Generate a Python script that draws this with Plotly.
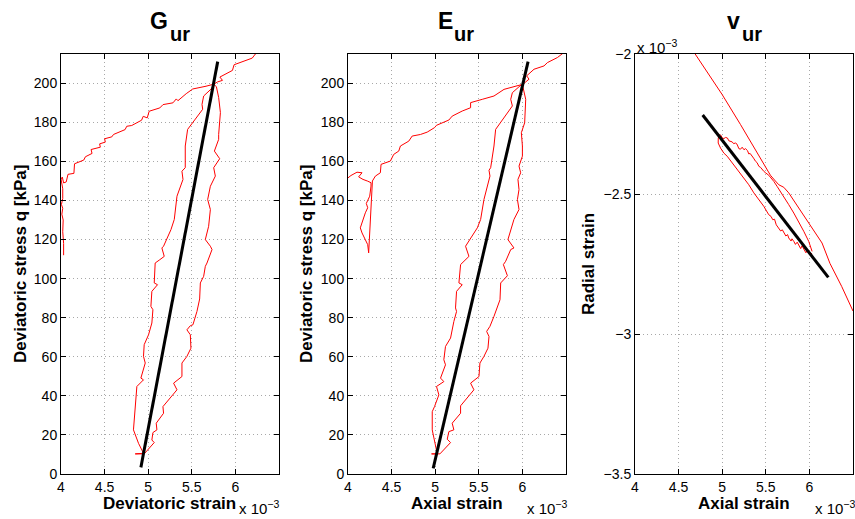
import plotly.graph_objects as go

W, H = 855, 519

# ---------------- Panel 1: G_ur (deviatoric strain [x1e-3], q [kPa]) ----------------
g_strain = [4.03, 4.03, 4.02, 4.025, 4.01, 4.02, 4.005, 4.02, 4.02, 4.0, 4.015, 4.03, 4.06,
            4.080, 4.148, 4.155, 4.261, 4.280, 4.356, 4.345, 4.451, 4.443, 4.508, 4.5, 4.583, 4.602,
            4.735, 4.754, 4.811, 4.924, 4.943, 4.989, 5.011, 5.133, 5.170, 5.284, 5.322, 5.341,
            5.436, 5.511, 5.663, 5.731, 5.751,
            5.720, 5.636, 5.617, 5.625, 5.502, 5.452, 5.425, 5.425, 5.387, 5.399, 5.330, 5.299,
            5.261, 5.176, 5.157, 5.184, 5.133, 5.080, 5.069, 5.107, 5.042, 5.031, 5.054, 5.042,
            5.004, 4.954, 4.946, 4.966, 4.916, 4.946, 4.870, 4.851, 4.831, 4.889, 4.946, 4.851,
            4.954, 5.069, 5.042, 5.054, 5.100, 5.092, 5.176, 5.169, 5.330, 5.291, 5.387, 5.387,
            5.444, 5.490, 5.483, 5.444, 5.483, 5.513, 5.559, 5.590, 5.598, 5.636, 5.655, 5.674,
            5.732, 5.713, 5.655, 5.693, 5.713, 5.682, 5.713, 5.770, 5.751, 5.820, 5.759, 5.808,
            5.808, 5.828, 5.808, 5.782, 5.751,
            5.795, 5.852, 5.822, 5.966, 5.985, 6.080, 6.193, 6.231, 6.30]
g_q = [112, 118, 124, 130, 133, 136, 138, 141, 146, 151, 152, 149, 149.5,
       153.4, 153.9, 158.8, 160.7, 162.4, 164.1, 166.1, 167.3, 169.0, 169.9, 171.6, 172.6, 173.8,
       176.3, 178.0, 178.4, 181.1, 183.1, 182.3, 185.7, 187.4, 189.1, 190.0, 192.0, 191.1,
       194.7, 197.1, 198.5, 199.3, 199.0,
       197.0, 193.5, 189.2, 186.7, 179.8, 176.4, 167.9, 156.8, 155.0, 150.8, 142.2, 130.3,
       125.1, 116.6, 115.7, 111.4, 109.7, 108.0, 97.8, 96.9, 93.5, 85.8, 84.1, 77.3,
       71.3, 66.2, 60.2, 56.8, 49.1, 48.2, 44.8, 32.8, 22.6, 15.7, 10.6, 10.3,
       10.3, 16.1, 17.4, 21.2, 22.6, 26.0, 31.1, 34.5, 43.1, 46.5, 49.9, 56.8,
       60.2, 64.4, 71.3, 73.8, 75.9, 76.4, 83.2, 89.6, 97.8, 101.2, 106.3, 108.0,
       114.9, 116.6, 120.0, 126.8, 135.4, 140.5, 147.3, 152.5, 156.8, 161.4, 165.3, 171.3,
       173.8, 185.0, 192.7, 198.3, 199.5,
       200.7, 201.5, 203.2, 206.6, 209.5, 210.9, 212.9, 215.1, 217.5]
g_fit_strain = [4.916, 5.797]
g_fit_q = [3.4, 211.1]

# ---------------- Panel 2: E_ur (axial strain [x1e-3], q [kPa]) ----------------
e_strain = [4.0, 4.034, 4.103, 4.161, 4.122, 4.172, 4.226, 4.264, 4.264, 4.249, 4.210, 4.226,
            4.199, 4.180, 4.172, 4.141, 4.161, 4.226, 4.237, 4.280,
            4.314, 4.371, 4.379, 4.486, 4.524, 4.582, 4.601, 4.697, 4.736, 4.831, 4.908, 4.992,
            5.015, 5.157, 5.195, 5.310, 5.406, 5.406, 5.540, 5.674, 5.789, 5.903, 5.988,
            5.885, 5.866, 5.885, 5.751, 5.693, 5.674, 5.636, 5.617, 5.628, 5.559, 5.521, 5.483,
            5.406, 5.348, 5.387, 5.291, 5.272, 5.310, 5.245, 5.233, 5.245, 5.214, 5.176, 5.118,
            5.099, 5.118, 5.061, 5.099, 5.015, 5.042, 4.992, 4.966, 4.966, 5.003, 5.023, 4.958,
            5.054, 5.176, 5.138, 5.157, 5.214, 5.195, 5.291, 5.291, 5.444, 5.406, 5.502, 5.513,
            5.559, 5.605, 5.617, 5.590, 5.628, 5.674, 5.705, 5.743, 5.751, 5.828, 5.782, 5.808,
            5.866, 5.903, 5.834, 5.866, 5.903, 5.961, 5.943, 5.961, 5.949, 5.980, 5.961, 6.0,
            6.0, 5.988, 6.026, 6.038, 6.018, 6.0,
            6.076, 6.049, 6.133, 6.248, 6.287, 6.402, 6.460, 6.52]
e_q = [151.6, 152.8, 154.5, 154.2, 152.1, 150.8, 149.9, 149.1, 147.4, 142.2, 138.5, 136.3,
       133.7, 131.1, 130.3, 126.0, 123.4, 117.4, 113.2, 150.0,
       152.5, 154.2, 158.5, 160.2, 163.6, 165.3, 167.9, 170.4, 173.0, 173.8, 175.0, 177.3,
       178.5, 181.2, 183.2, 185.8, 187.5, 190.1, 191.8, 193.5, 196.9, 198.3, 199.3,
       195.2, 191.8, 188.4, 179.8, 176.4, 167.9, 156.8, 155.5, 152.5, 140.5, 130.3, 126.0,
       120.9, 116.6, 111.4, 107.2, 97.8, 96.9, 93.5, 85.0, 83.2, 78.1, 69.6, 65.3,
       58.5, 55.9, 49.1, 47.3, 44.8, 40.5, 34.5, 31.9, 22.6, 14.9, 10.3, 10.3,
       10.3, 16.1, 17.8, 21.7, 22.6, 26.0, 31.1, 34.9, 43.1, 46.5, 49.9, 56.8,
       60.2, 64.4, 70.4, 73.0, 75.6, 80.7, 84.1, 89.2, 97.8, 101.5, 107.2, 108.9,
       114.9, 115.7, 120.0, 125.1, 130.3, 135.4, 140.5, 145.6, 150.8, 154.2, 157.6, 162.7,
       167.9, 174.7, 179.8, 191.8, 196.6, 199.3,
       202.1, 203.8, 207.2, 208.9, 210.6, 213.2, 215.2, 217.0]
e_fit_strain = [4.977, 6.065]
e_fit_q = [2.9, 211.1]

# ---------------- Panel 3: v_ur (axial strain [x1e-3], radial strain [x1e-3]) ----------------
v_outer_axial = [4.69, 5.0, 5.21, 5.40, 5.553, 5.60, 5.649, 5.706, 5.763, 5.878, 6.031,
                 6.145, 6.236, 6.37, 6.5]
v_outer_radial = [-2.0, -2.145, -2.252, -2.35, -2.433, -2.45, -2.467, -2.476, -2.496, -2.550,
                  -2.621, -2.675, -2.748, -2.83, -2.918]
v_loop_axial = [6.031, 5.992, 5.935, 5.878, 5.821, 5.763, 5.706, 5.668, 5.630, 5.592, 5.534,
                5.50, 5.477, 5.44, 5.420, 5.40, 5.382, 5.36, 5.344, 5.32, 5.305, 5.29, 5.267,
                5.25, 5.229, 5.21, 5.191, 5.17, 5.153, 5.13, 5.115, 5.095, 5.076, 5.06, 5.038,
                5.02, 5.0, 4.985, 4.969, 4.955, 4.954,
                4.981, 5.019, 5.057, 5.115, 5.172, 5.248, 5.305, 5.363, 5.420, 5.477, 5.534,
                5.56, 5.58, 5.60, 5.62, 5.649, 5.67, 5.69, 5.706, 5.73, 5.75, 5.763, 5.79,
                5.80, 5.821, 5.84, 5.86, 5.878, 5.90, 5.915, 5.935, 5.96, 5.975, 5.992, 6.031]
v_loop_radial = [-2.705, -2.669, -2.633, -2.598, -2.568, -2.538, -2.508, -2.490, -2.473,
                 -2.455, -2.433, -2.425, -2.419, -2.405, -2.401, -2.388, -2.383, -2.372,
                 -2.365, -2.355, -2.357, -2.345, -2.338, -2.342, -2.333, -2.34, -2.338,
                 -2.322, -2.318, -2.32, -2.314, -2.312, -2.310, -2.30, -2.298, -2.302, -2.300,
                 -2.29, -2.288, -2.30, -2.318,
                 -2.336, -2.354, -2.365, -2.389, -2.413, -2.443, -2.467, -2.496, -2.520,
                 -2.544, -2.574, -2.58, -2.592, -2.59, -2.61, -2.621, -2.632, -2.628, -2.639,
                 -2.65, -2.645, -2.657, -2.668, -2.66, -2.669, -2.68, -2.672, -2.681, -2.695,
                 -2.685, -2.695, -2.71, -2.70, -2.707, -2.714]
v_fit_axial = [4.776, 6.217]
v_fit_radial = [-2.218, -2.798]

x_ticks = [4, 4.5, 5, 5.5, 6]
x_ticktext = ["4", "4.5", "5", "5.5", "6"]
q_ticks = [0, 20, 40, 60, 80, 100, 120, 140, 160, 180, 200]
r_ticks = [-3.5, -3, -2.5, -2]
r_ticktext = ["\u22123.5", "\u22123", "\u22122.5", "\u22122"]

RED = "#ff0000"
FONT = "Liberation Sans, Arial, Helvetica, sans-serif"

fig = go.Figure()
red_line = dict(color=RED, width=1)
fit_line = dict(color="black", width=3)

fig.add_trace(go.Scatter(x=g_strain, y=g_q, mode="lines", line=red_line, xaxis="x", yaxis="y"))
fig.add_trace(go.Scatter(x=g_fit_strain, y=g_fit_q, mode="lines", line=fit_line, xaxis="x", yaxis="y"))
fig.add_trace(go.Scatter(x=e_strain, y=e_q, mode="lines", line=red_line, xaxis="x2", yaxis="y2"))
fig.add_trace(go.Scatter(x=e_fit_strain, y=e_fit_q, mode="lines", line=fit_line, xaxis="x2", yaxis="y2"))
fig.add_trace(go.Scatter(x=v_outer_axial, y=v_outer_radial, mode="lines", line=red_line, xaxis="x3", yaxis="y3"))
fig.add_trace(go.Scatter(x=v_loop_axial, y=v_loop_radial, mode="lines", line=red_line, xaxis="x3", yaxis="y3"))
fig.add_trace(go.Scatter(x=v_fit_axial, y=v_fit_radial, mode="lines", line=fit_line, xaxis="x3", yaxis="y3"))


def px_x(v):
    return v / W


def px_y(v):
    return 1 - v / H


common = dict(showline=True, linecolor="black", linewidth=1, mirror="ticks", ticks="inside",
              ticklen=5, tickcolor="black", showgrid=True, gridcolor="#a8a8a8",
              griddash="1px,3px", gridwidth=1, zeroline=False, automargin=False,
              tickfont=dict(family=FONT, size=14, color="black"))

panels = [(61, 279), (348, 566), (635, 853)]
ydom = [px_y(474), px_y(54)]

for i, (l, r) in enumerate(panels):
    sfx = "" if i == 0 else str(i + 1)
    xa = dict(common, domain=[px_x(l), px_x(r)], range=[4, 6.5], tickvals=x_ticks,
              ticktext=x_ticktext, anchor="y" + sfx)
    if i < 2:
        ya = dict(common, domain=ydom, range=[0, 215], tickvals=q_ticks, anchor="x" + sfx)
    else:
        ya = dict(common, domain=ydom, range=[-3.5, -2], tickvals=r_ticks, ticktext=r_ticktext,
                  anchor="x" + sfx)
    fig.update_layout(**{"xaxis" + sfx: xa, "yaxis" + sfx: ya})

annotations = []


def ann(text, x, y, size, bold=False, angle=0, xanchor="center", yanchor="middle"):
    annotations.append(dict(text=("<b>%s</b>" % text) if bold else text, x=px_x(x), y=px_y(y),
                            xref="paper", yref="paper", showarrow=False, textangle=angle,
                            xanchor=xanchor, yanchor=yanchor,
                            font=dict(family=FONT, size=size, color="black")))


# titles
ann("G", 159, 21, 23, bold=True)
ann("ur", 180, 34, 20, bold=True)
ann("E", 445, 21, 23, bold=True)
ann("ur", 464, 34, 20, bold=True)
ann("v", 733, 21, 23, bold=True)
ann("ur", 752, 34, 20, bold=True)

# axis titles
ann("Deviatoric stress q [kPa]", 20, 264, 17, bold=True, angle=-90)
ann("Deviatoric stress q [kPa]", 306, 264, 17, bold=True, angle=-90)
ann("Radial strain", 588, 264, 17, bold=True, angle=-90)
ann("Deviatoric strain", 169, 503, 17, bold=True)
ann("Axial strain", 457, 503, 17, bold=True)
ann("Axial strain", 744, 503, 17, bold=True)

# exponent labels
exp_txt = "x 10<sup>\u22123</sup>"
ann(exp_txt, 237, 507, 15, xanchor="left")
ann(exp_txt, 525, 507, 15, xanchor="left")
ann(exp_txt, 813, 507, 15, xanchor="left")
ann(exp_txt, 635, 46, 15, xanchor="left")

fig.update_layout(width=W, height=H, autosize=False, margin=dict(l=0, r=0, t=0, b=0, pad=0),
                  paper_bgcolor="white", plot_bgcolor="white", showlegend=False,
                  annotations=annotations)

fig.write_html("out.html", config={"responsive": False},
               post_script="document.body.style.margin='0px';")
